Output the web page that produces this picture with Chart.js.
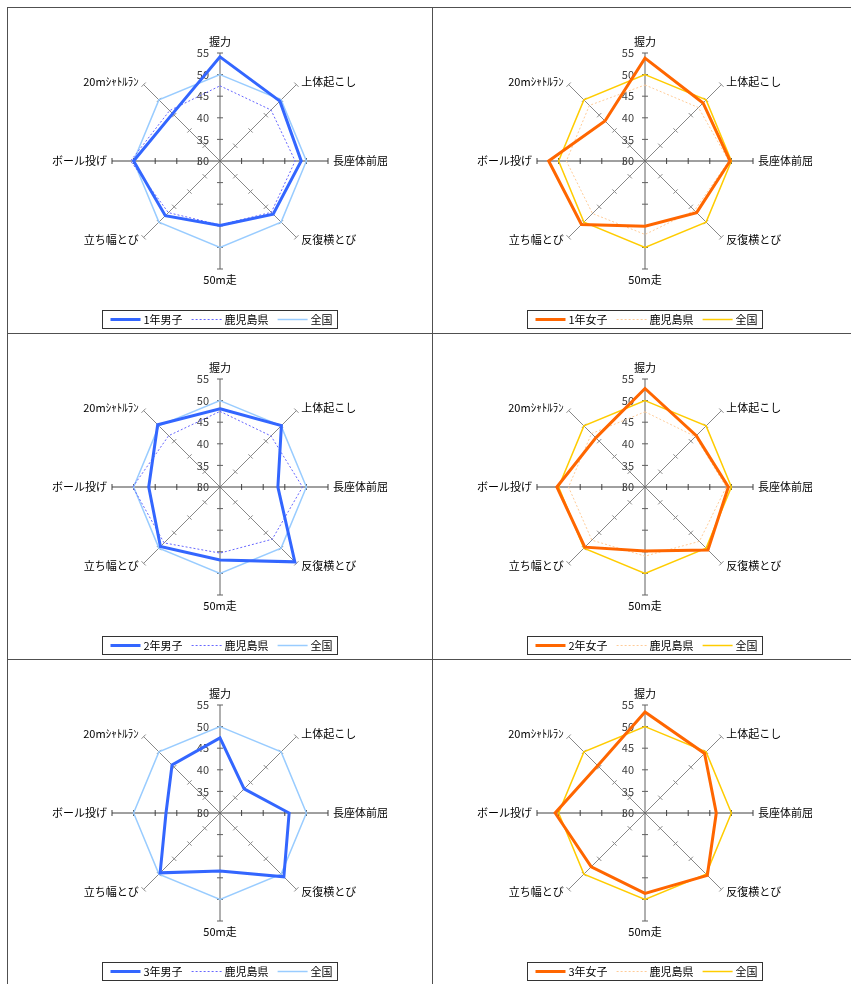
<!DOCTYPE html>
<html>
<head>
<meta charset="utf-8">
<script src="https://cdn.jsdelivr.net/npm/chart.js@4.4.1/dist/chart.umd.min.js"></script>
<style>
html, body { margin: 0; padding: 0; background: #fff; overflow: hidden; }
.panel { position: absolute; width: 425px; height: 326px; box-shadow: inset 1px 1px 0 #505050; }
.panel canvas { position: absolute; left: 0; top: 0; }
</style>
</head>
<body>
<div class="panel" style="left:7px;top:7px"><canvas id="c1" width="425" height="326"></canvas></div>
<div class="panel" style="left:432px;top:7px"><canvas id="c2" width="425" height="326"></canvas></div>
<div class="panel" style="left:7px;top:333px"><canvas id="c3" width="425" height="326"></canvas></div>
<div class="panel" style="left:432px;top:333px"><canvas id="c4" width="425" height="326"></canvas></div>
<div class="panel" style="left:7px;top:659px"><canvas id="c5" width="425" height="326"></canvas></div>
<div class="panel" style="left:432px;top:659px"><canvas id="c6" width="425" height="326"></canvas></div>
<script>
// axes, clockwise from the top
const categories = ['握力', '上体起こし', '長座体前屈', '反復横とび', '50m走', '立ち幅とび', 'ボール投げ', '20mｼｬﾄﾙﾗﾝ'];
const scoreTicks = [30, 35, 40, 45, 50, 55];

// 全国 = 50 on every item
const national = [50, 50, 50, 50, 50, 50, 50, 50];

const boys1 = [54.1, 49.6, 48.8, 47.4, 44.9, 47.9, 50.0, 45.5];
const prefBoys1 = [47.4, 46.7, 47.4, 46.8, 44.8, 46.9, 50.7, 46.5];
const girls1 = [53.8, 49.0, 49.7, 46.9, 45.1, 50.8, 52.3, 43.1];
const prefGirls1 = [47.6, 47.5, 49.4, 46.2, 47.0, 47.2, 48.2, 48.2];

const boys2 = [48.1, 50.1, 43.4, 54.5, 46.9, 49.5, 46.5, 50.4];
const prefBoys2 = [47.5, 46.7, 49.1, 47.1, 45.3, 48.3, 50.2, 46.8];
const girls2 = [52.8, 46.8, 49.3, 50.6, 44.8, 49.7, 50.4, 46.1];
const prefGirls2 = [47.4, 46.5, 48.8, 47.8, 46.0, 47.4, 47.7, 47.5];

const boys3 = [47.4, 37.9, 46.0, 50.9, 43.4, 49.6, 42.5, 45.7];
const girls3 = [53.4, 49.5, 46.5, 50.4, 48.6, 47.6, 50.8, 45.5];
const prefBoys3 = [];   // no 鹿児島県 line drawn for 3年
const prefGirls3 = [];

const FONT = "11px 'Noto Sans CJK JP', sans-serif";

// excel style axes: tick marks, value labels, item labels and boxed legend
const excelRadar = {
  id: 'excelRadar',
  beforeDatasetsDraw(chart) {
    const r = chart.scales.r, ctx = chart.ctx;
    ctx.save();
    ctx.lineWidth = 1;
    categories.forEach((c, i) => {
      ctx.strokeStyle = (i % 4 === 2) ? '#404040' : (i % 4 === 0 ? '#606060' : '#888');
      scoreTicks.slice(1).forEach(v => {
        const p = r.getPointPosition(i, r.getDistanceFromCenterForValue(v));
        const nx = -Math.sin(p.angle) * 3, ny = Math.cos(p.angle) * 3;
        ctx.beginPath();
        ctx.moveTo(p.x - nx, p.y - ny);
        ctx.lineTo(p.x + nx, p.y + ny);
        ctx.stroke();
      });
    });
    ctx.font = FONT;
    ctx.fillStyle = '#404040';
    ctx.textAlign = 'right';
    ctx.textBaseline = 'middle';
    scoreTicks.forEach(v => {
      const p = r.getPointPosition(0, r.getDistanceFromCenterForValue(v));
      ctx.fillText(String(v), p.x - 11, p.y);
    });
    ctx.restore();
  },
  afterDraw(chart) {
    const r = chart.scales.r, ctx = chart.ctx;
    ctx.save();
    ctx.font = FONT;
    ctx.fillStyle = '#000';
    ctx.textBaseline = 'middle';
    categories.forEach((lab, i) => {
      const p = r.getPointPosition(i, r.drawingArea);
      const c = Math.cos(p.angle), s = Math.sin(p.angle);
      let x = p.x, y = p.y, align = 'center';
      if (Math.abs(c) < 0.01) {
        y += s * 11;
      } else {
        align = c > 0 ? 'left' : 'right';
        x += c > 0 ? 5 : -5;
        y += s * 4;
      }
      ctx.textAlign = align;
      ctx.fillText(lab, x, y);
    });

    // legend
    const ds = chart.data.datasets;
    const lineLen = 30;
    const widths = ds.map(d => lineLen + 3 + ctx.measureText(d.label).width);
    const total = 8 + widths.reduce((a, b) => a + b, 0) + 9 * (ds.length - 1) + 5;
    const left = Math.round(chart.width / 2 - total / 2) + 0.5;
    const top = 303.5, h = 18;
    ctx.strokeStyle = '#333';
    ctx.lineWidth = 1;
    ctx.strokeRect(left, top, Math.round(total), h);
    let cx = left + 8;
    const cy = top + h / 2;
    ds.forEach((d, i) => {
      ctx.save();
      ctx.strokeStyle = d.borderColor;
      ctx.lineWidth = d.borderWidth;
      ctx.setLineDash(d.borderDash || []);
      ctx.beginPath();
      ctx.moveTo(cx, cy);
      ctx.lineTo(cx + lineLen, cy);
      ctx.stroke();
      ctx.restore();
      ctx.fillStyle = '#000';
      ctx.textAlign = 'left';
      ctx.fillText(d.label, cx + lineLen + 3, cy + 0.5);
      cx += widths[i] + 9;
    });
    ctx.restore();
  }
};

const boyColors = { main: '#3366ff', pref: '#6666ff', nat: '#99ccff' };
const girlColors = { main: '#ff6600', pref: '#ffcc99', nat: '#ffcc00' };

function makeRadar(id, title, main, pref, col) {
  return new Chart(document.getElementById(id), {
    type: 'radar',
    data: {
      labels: categories,
      datasets: [
        { label: title, data: main, borderColor: col.main, borderWidth: 3 },
        { label: '鹿児島県', data: pref, borderColor: col.pref, borderWidth: 1, borderDash: [2, 2] },
        { label: '全国', data: national, borderColor: col.nat, borderWidth: 1.5 }
      ]
    },
    options: {
      responsive: false,
      animation: false,
      events: [],
      layout: { padding: { left: 105, right: 104, top: 46, bottom: 64 } },
      elements: {
        line: { fill: false, tension: 0, borderJoinStyle: 'miter' },
        point: { radius: 0, hitRadius: 0, hoverRadius: 0 }
      },
      scales: {
        r: {
          min: 30,
          max: 55,
          ticks: { display: false, stepSize: 5 },
          grid: { display: false },
          pointLabels: { display: false },
          angleLines: {
            display: true,
            lineWidth: 1,
            color: ctx => (ctx.index % 4 === 2) ? '#404040' : (ctx.index % 4 === 0 ? '#606060' : '#888')
          }
        }
      },
      plugins: {
        legend: { display: false },
        tooltip: { enabled: false },
        title: { display: false }
      }
    },
    plugins: [excelRadar]
  });
}

makeRadar('c1', '1年男子', boys1, prefBoys1, boyColors);
makeRadar('c2', '1年女子', girls1, prefGirls1, girlColors);
makeRadar('c3', '2年男子', boys2, prefBoys2, boyColors);
makeRadar('c4', '2年女子', girls2, prefGirls2, girlColors);
makeRadar('c5', '3年男子', boys3, prefBoys3, boyColors);
makeRadar('c6', '3年女子', girls3, prefGirls3, girlColors);
</script>
</body>
</html>
